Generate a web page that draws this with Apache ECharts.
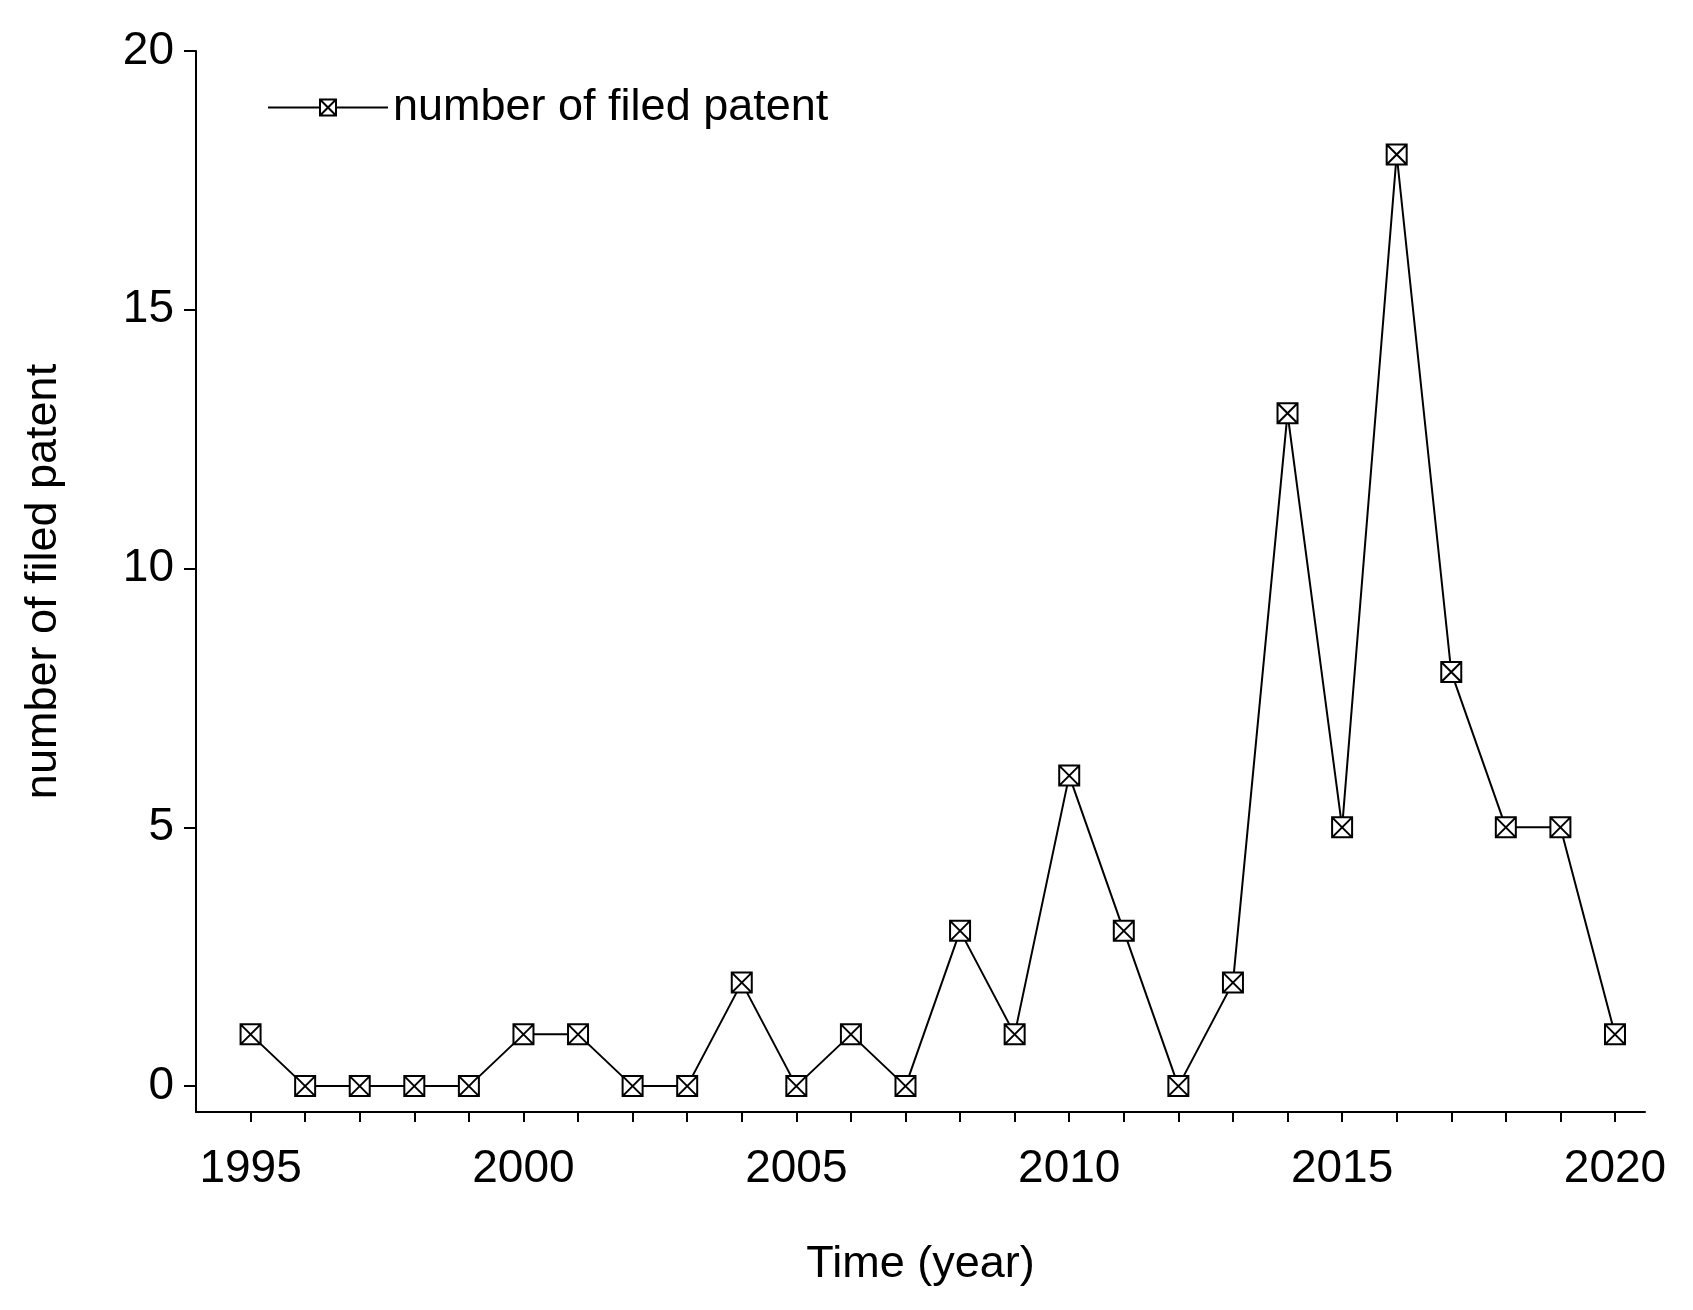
<!DOCTYPE html>
<html>
<head>
<meta charset="utf-8">
<script src="https://cdn.jsdelivr.net/npm/echarts@6/dist/echarts.min.js"></script>
<style>html,body{margin:0;background:#fff}#main{width:1693px;height:1310px}</style>
</head>
<body>
<div id="main"></div>
<script>
var years = [1995,1996,1997,1998,1999,2000,2001,2002,2003,2004,2005,2006,2007,2008,2009,2010,2011,2012,2013,2014,2015,2016,2017,2018,2019,2020];
var patents = [1,0,0,0,0,1,1,0,0,2,0,1,0,3,1,6,3,0,2,13,5,18,8,5,5,1];
var xLabels = [1995,2000,2005,2010,2015,2020];
var yLabels = [0,5,10,15,20];

var chartDom = document.getElementById('main');
var myChart = echarts.init(chartDom);
var marker = 'path://M0,0 L10,0 L10,10 L0,10 Z M0,0 L10,10 M10,0 L0,10';
var font = 'Liberation Sans, Arial, sans-serif';

var option = {
  animation: false,
  textStyle: { fontFamily: font, color: '#000' },
  grid: { left: 196, right: 48, top: 51, bottom: 198 },
  legend: {
    left: 262, top: 80, itemWidth: 120, itemHeight: 20, itemGap: 14,
    textStyle: { fontSize: 45, color: '#000', fontFamily: font },
    data: ['number of filed patent']
  },
  xAxis: {
    type: 'value', min: 1994, max: 2020.55,
    name: 'Time (year)', nameLocation: 'middle', nameGap: 130,
    nameTextStyle: { fontSize: 45, color: '#000' },
    splitLine: { show: false },
    axisLine: { onZero: false, lineStyle: { color: '#000', width: 2 } },
    axisTick: { customValues: years, length: 10, lineStyle: { color: '#000', width: 2 } },
    axisLabel: { customValues: xLabels, fontSize: 46, color: '#000', margin: 34,
      formatter: function (v) { return String(v); } }
  },
  yAxis: {
    type: 'value', min: -0.5, max: 20,
    name: 'number of filed patent', nameLocation: 'middle', nameGap: 130,
    nameTextStyle: { fontSize: 45, color: '#000' },
    splitLine: { show: false },
    axisLine: { show: true, lineStyle: { color: '#000', width: 2 } },
    axisTick: { show: true, customValues: yLabels, length: 12, lineStyle: { color: '#000', width: 2 } },
    axisLabel: { customValues: yLabels, fontSize: 46, color: '#000', margin: 22 }
  },
  series: [{
    name: 'number of filed patent',
    type: 'line',
    data: years.map(function (y, i) { return [y, patents[i]]; }),
    symbol: marker, symbolSize: 20,
    lineStyle: { color: '#000', width: 2 },
    itemStyle: { color: '#fff', borderColor: '#000', borderWidth: 2 }
  }]
};
myChart.setOption(option);
</script>
</body>
</html>
